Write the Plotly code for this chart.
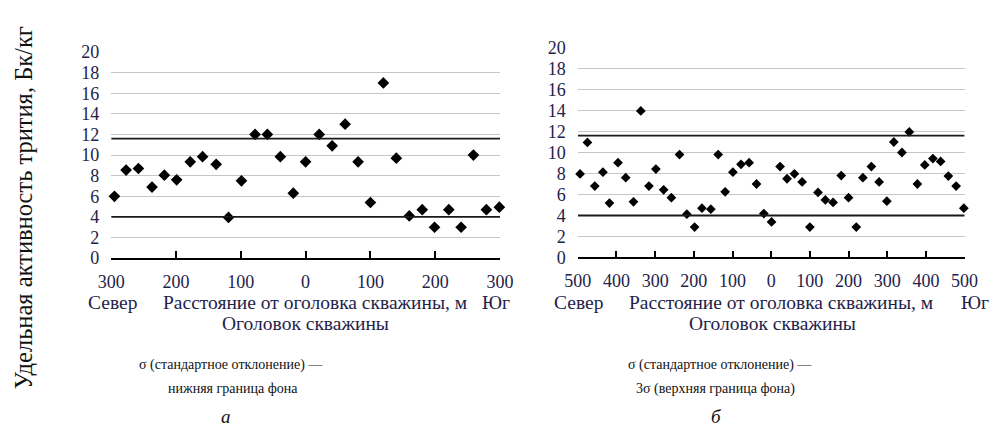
import plotly.graph_objects as go

# ---------------- data ----------------
# panel a: distance from well head (negative = north, positive = south), m
a_dist = [-295, -277, -258, -237, -218, -199, -178, -159, -138, -119, -99, -78, -59, -39,
          -19, 0, 21, 41, 61, 81, 100, 120, 140, 160, 180, 199, 221, 240, 259, 279, 299]
a_val = [6.0, 8.55, 8.7, 6.9, 8.05, 7.6, 9.35, 9.85, 9.1, 3.95, 7.5, 12.0, 12.0, 9.85,
         6.3, 9.35, 12.0, 10.9, 13.0, 9.35, 5.4, 17.0, 9.7, 4.1, 4.7, 3.0, 4.7, 3.0, 10.0, 4.7, 4.95]

# panel b
b_dist = [-494, -475, -456, -435, -418, -396, -376, -356, -337, -316, -298, -278, -258,
          -237, -218, -198, -179, -156, -137, -119, -99, -78, -57, -38, -19, 1, 23, 41,
          60, 80, 100, 121, 140, 160, 181, 200, 220, 237, 259, 279, 299, 317, 338, 357,
          378, 397, 418, 438, 458, 478, 498]
b_val = [7.96, 10.96, 6.8, 8.12, 5.18, 9.03, 7.6, 5.3, 13.96, 6.8, 8.42, 6.45, 5.7,
         9.8, 4.12, 2.9, 4.7, 4.6, 9.8, 6.25, 8.12, 8.88, 9.03, 7.0, 4.18, 3.39, 8.66, 7.5,
         7.97, 7.2, 2.9, 6.2, 5.48, 5.24, 7.8, 5.7, 2.9, 7.6, 8.66, 7.2, 5.36, 11.0, 10.0, 11.96,
         7.0, 8.82, 9.42, 9.15, 7.75, 6.8, 4.7]

upper_bg = 11.6   # 3σ – upper background limit
lower_bg = 4.0    # σ – lower background limit

y_ticks = [0, 2, 4, 6, 8, 10, 12, 14, 16, 18, 20]
a_xticks = [-300, -200, -100, 0, 100, 200, 300]
a_xlabels = ["300", "200", "100", "0", "100", "200", "300"]
b_xticks = [-500, -400, -300, -200, -100, 0, 100, 200, 300, 400, 500]
b_xlabels = ["500", "400", "300", "200", "100", "0", "100", "200", "300", "400", "500"]

y_title = "Удельная активность трития, Бк/кг"
north, south = "Север", "Юг"
x_title = "Расстояние от оголовка скважины, м"
x_sub = "Оголовок скважины"
cap_a = ["σ (стандартное отклонение) —", "нижняя граница фона", "а"]
cap_b = ["σ (стандартное отклонение) —", "3σ (верхняя граница фона)", "б"]

# ---------------- figure ----------------
W, H = 1000, 439
SERIF = "Liberation Serif"
NAVY = "#23224a"

def px(x):
    return x / W

def py(y):
    return 1 - y / H

fig = go.Figure()
fig.add_trace(go.Scatter(x=a_dist, y=a_val, mode="markers", xaxis="x", yaxis="y",
                         marker=dict(symbol="diamond", size=9, color="black"),
                         cliponaxis=False, showlegend=False))
fig.add_trace(go.Scatter(x=b_dist, y=b_val, mode="markers", xaxis="x2", yaxis="y2",
                         marker=dict(symbol="diamond", size=7.5, color="black"),
                         cliponaxis=False, showlegend=False))

for xr, yr, xs in (("x", "y", a_xticks), ("x2", "y2", b_xticks)):
    for v in (upper_bg, lower_bg):
        fig.add_shape(type="line", xref=xr, yref=yr, x0=xs[0], x1=xs[-1], y0=v, y1=v,
                      line=dict(color="#1a1a1a", width=1.8))

tickfont = dict(family=SERIF, size=18, color=NAVY)
common_x = dict(showgrid=False, zeroline=False, showline=True, linecolor="black",
                linewidth=1.6, ticks="inside", ticklen=7, tickwidth=1.5, tickcolor="black",
                tickfont=tickfont, ticklabelstandoff=6)
common_y = dict(range=[0, 20], tickvals=y_ticks, showgrid=True, gridcolor="#c6c6c6",
                gridwidth=1.4, zeroline=False, showline=False, ticks="",
                tickfont=tickfont, ticklabelstandoff=11)

fig.update_layout(
    width=W, height=H, margin=dict(l=0, r=0, t=0, b=0),
    paper_bgcolor="white", plot_bgcolor="white",
    xaxis=dict(domain=[px(100), px(500)], range=[-300, 300], tickvals=a_xticks,
               ticktext=a_xlabels, anchor="y", **common_x),
    yaxis=dict(domain=[py(260), py(44)], anchor="x", **common_y),
    xaxis2=dict(domain=[px(580), px(978)], range=[-500, 500], tickvals=b_xticks,
                ticktext=b_xlabels, anchor="y2", **common_x),
    yaxis2=dict(domain=[py(259.3), py(39.3)], anchor="x2", **common_y),
)

def note(text, x, y, size=19.5, color=NAVY, xanchor="center", italic=False, angle=0):
    fig.add_annotation(text=(f"<i>{text}</i>" if italic else text), x=px(x), y=py(y),
                       xref="paper", yref="paper", showarrow=False, xanchor=xanchor,
                       yanchor="middle", textangle=angle,
                       font=dict(family=SERIF, size=size, color=color))

note(y_title, 10, 207, size=24.5, color="#111111", angle=-90)

# panel a texts
note(north, 101, 306)
note(x_title, 151, 306, xanchor="left")
note(south, 496, 306)
note(x_sub, 300, 328)
note(cap_a[0], 223, 372, size=14, color="#111111")
note(cap_a[1], 225, 397, size=14, color="#111111")
note(cap_a[2], 218, 426, size=19, color="#111111", italic=True)

# panel b texts
note(north, 581, 306)
note(x_title, 631, 306, xanchor="left")
note(south, 989, 306)
note(x_sub, 780, 328)
note(cap_b[0], 726, 372, size=14, color="#111111")
note(cap_b[1], 722, 397, size=14, color="#111111")
note(cap_b[2], 723, 426, size=19, color="#111111", italic=True)

fig.write_html("out.html", config={"displayModeBar": False},
               post_script="document.body.style.margin='0';")
